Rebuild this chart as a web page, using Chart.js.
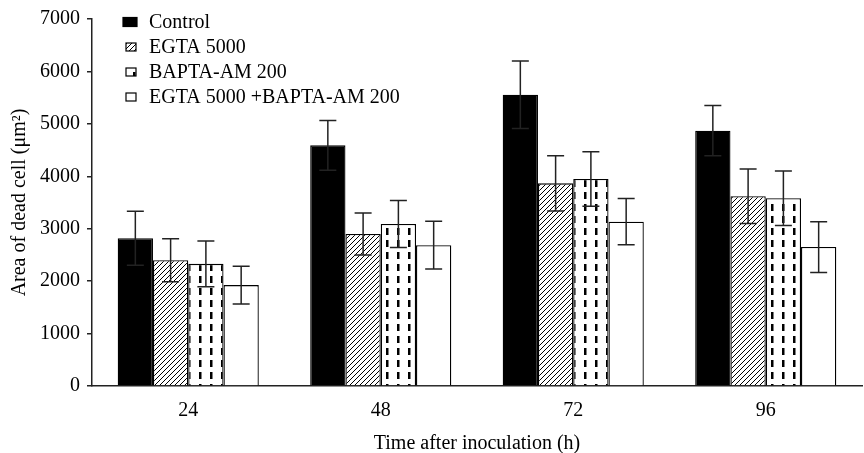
<!DOCTYPE html>
<html>
<head>
<meta charset="utf-8">
<script src="https://cdn.jsdelivr.net/npm/chart.js@4/dist/chart.umd.min.js"></script>
<style>
  html, body { margin: 0; padding: 0; background: #fff; }
  #wrap { width: 864px; height: 453px; }
</style>
</head>
<body>
<div id="wrap"><canvas id="bar-chart" width="864" height="453"></canvas></div>
<script>
// data
const hours = ["24", "48", "72", "96"];
const seriesNames = ["Control", "EGTA 5000", "BAPTA-AM 200", "EGTA 5000 +BAPTA-AM 200"];
const control = [2820, 4590, 5555, 4870];
const egta = [2400, 2900, 3865, 3620];
const bapta = [2330, 3090, 3950, 3580];
const egtaBapta = [1925, 2685, 3135, 2650];
const controlErr = [515, 475, 645, 480];
const egtaErr = [410, 400, 525, 520];
const baptaErr = [435, 450, 520, 520];
const egtaBaptaErr = [360, 455, 440, 485];
const yTicks = [0, 1000, 2000, 3000, 4000, 5000, 6000, 7000];

const FONT = "'Liberation Serif', 'Times New Roman', serif";
const FS = 20;

// hatch fills
function makeHatch() {
    const c = document.createElement("canvas");
    c.width = 5; c.height = 5;
    const g = c.getContext("2d");
    g.fillStyle = "#fff"; g.fillRect(0, 0, 5, 5);
    g.fillStyle = "#000";
    for (let i = 0; i < 5; i++) g.fillRect(i, 4 - i, 1, 1);
    return g.createPattern(c, "repeat");
}
function makeDashes() {
    const c = document.createElement("canvas");
    c.width = 11; c.height = 12;
    const g = c.getContext("2d");
    g.fillStyle = "#fff"; g.fillRect(0, 0, 11, 12);
    g.fillStyle = "#000";
    g.fillRect(1, 0, 2.5, 7);
    return g.createPattern(c, "repeat");
}

const fills = ["#000", makeHatch(), makeDashes(), "#fff"];
const values = [control, egta, bapta, egtaBapta];
const errs = [controlErr, egtaErr, baptaErr, egtaBaptaErr];

// error bars, symmetric, drawn over the bars
const errorBars = {
    id: "errorBars",
    afterDatasetsDraw(chart) {
        const ctx = chart.ctx;
        const y = chart.scales.y;
        ctx.save();
        ctx.strokeStyle = "#222";
        ctx.lineWidth = 1.5;
        chart.data.datasets.forEach((ds, i) => {
            const meta = chart.getDatasetMeta(i);
            meta.data.forEach((bar, j) => {
                const v = ds.data[j], e = ds.err[j];
                const top = y.getPixelForValue(v + e);
                const bot = y.getPixelForValue(v - e);
                ctx.beginPath();
                ctx.moveTo(bar.x, top); ctx.lineTo(bar.x, bot);
                ctx.moveTo(bar.x - 8.5, top); ctx.lineTo(bar.x + 8.5, top);
                ctx.moveTo(bar.x - 8.5, bot); ctx.lineTo(bar.x + 8.5, bot);
                ctx.stroke();
            });
        });
        ctx.restore();
    }
};

// legend inside the plot, top left
const innerLegend = {
    id: "innerLegend",
    afterDraw(chart) {
        const ctx = chart.ctx;
        ctx.save();
        ctx.font = FS + "px " + FONT;
        ctx.textBaseline = "middle";
        chart.data.datasets.forEach((ds, i) => {
            const cy = 22 + i * 25;
            // the solid box is a bit bigger in the original
            const bx = i === 0 ? 123 : 126, bw = i === 0 ? 14 : 10, bh = i === 0 ? 9 : 8;
            ctx.fillStyle = ds.backgroundColor;
            ctx.fillRect(bx, cy - bh / 2, bw, bh);
            ctx.strokeStyle = "#000";
            ctx.lineWidth = 1.2;
            ctx.strokeRect(bx, cy - bh / 2, bw, bh);
            ctx.fillStyle = "#000";
            ctx.fillText(ds.label, 149, cy + 1);
        });
        ctx.restore();
    }
};

new Chart(document.getElementById("bar-chart"), {
    type: "bar",
    data: {
        labels: hours,
        datasets: seriesNames.map((name, i) => ({
            label: name,
            data: values[i],
            err: errs[i],
            backgroundColor: fills[i],
            borderColor: "#000",
            borderWidth: 1.3,
            categoryPercentage: 0.733,
            barPercentage: 1.0
        }))
    },
    options: {
        responsive: false,
        animation: false,
        layout: { padding: { top: 16, right: 2, left: 0, bottom: 0 } },
        plugins: { legend: { display: false }, tooltip: { enabled: false } },
        scales: {
            x: {
                grid: { display: false },
                border: { display: true, color: "#222", width: 1.5 },
                ticks: { color: "#000", font: { family: FONT, size: FS }, padding: 5 },
                title: { display: true, text: "Time after inoculation (h)", color: "#000",
                         font: { family: FONT, size: FS }, padding: { top: 6, bottom: -3 } },
                afterFit(s) { s.height = 67; }
            },
            y: {
                min: 0, max: 7000,
                afterBuildTicks(s) { s.ticks = yTicks.map(v => ({ value: v })); },
                grid: { display: true, drawOnChartArea: false, drawTicks: true, tickLength: 5, color: "#222", lineWidth: 1.5 },
                border: { display: true, color: "#222", width: 1.5 },
                ticks: { color: "#000", font: { family: FONT, size: FS }, padding: 7,
                         callback: v => String(v) },
                title: { display: true, text: "Area of dead cell (\u03bcm\u00b2)", color: "#000",
                         font: { family: FONT, size: FS }, padding: { top: 8, bottom: 0 } },
                afterFit(s) { s.width = 92; }
            }
        }
    },
    plugins: [errorBars, innerLegend]
});
</script>
</body>
</html>
